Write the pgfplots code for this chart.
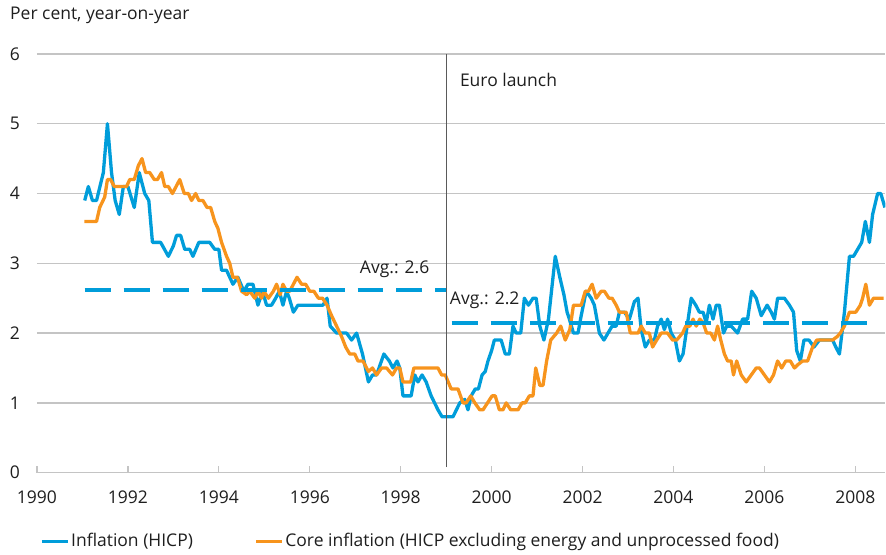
\documentclass[border=0pt]{standalone}
\usepackage{pgfplots}
\pgfplotsset{compat=1.18}
\usepackage{fontspec}
\setmainfont{Open Sans}
\definecolor{ecbblue}{RGB}{0,157,218}
\definecolor{ecborange}{RGB}{247,148,29}
\definecolor{gridgray}{RGB}{196,196,196}
\definecolor{vgray}{RGB}{90,90,90}
\definecolor{txt}{RGB}{30,30,30}
\begin{document}
\fontsize{17.5pt}{20pt}\selectfont
\begin{tikzpicture}
\begin{axis}[
  name=main,
  scale only axis, width=849pt, height=419pt,
  xmin=1990, xmax=2008.66, ymin=0, ymax=6,
  clip mode=individual,
  axis x line*=bottom, axis y line*=left,
  x axis line style={draw=gridgray, line width=1.3pt, -},
  y axis line style={draw=none},
  xtick={1990,1992,...,2008}, ytick={0,1,...,6},
  /pgf/number format/assume math mode=true,
  /pgf/number format/1000 sep={},
  tick align=inside, major tick length=7pt,
  xtick style={draw=gridgray, line width=1.3pt},
  ytick style={draw=none},
  ymajorgrids, grid style={draw=gridgray, line width=1.3pt},
  tick label style={font=\fontsize{17.5pt}{20pt}\selectfont, text=txt},
  xticklabel style={anchor=north, yshift=-12pt},
  yticklabel style={anchor=east, xshift=-11pt},
  legend columns=2,
  legend cell align=left,
  legend style={draw=none, fill=none, at={(0,0)}, anchor=north west,
    xshift=3pt, yshift=-59pt, inner sep=0pt,
    font=\fontsize{17.5pt}{20pt}\selectfont, text=txt,
    nodes={inner sep=1.5pt},
    /tikz/every even column/.append style={column sep=60pt}},
  legend image code/.code={\draw[#1, line width=3.5pt] (0pt,0pt) -- (26pt,0pt);},
]
\addplot[ecbblue, line width=3.3pt, line join=round] coordinates {
(1991.05,3.9) (1991.13,4.1) (1991.22,3.9) (1991.31,3.9) (1991.46,4.3) (1991.55,5.0)
(1991.64,4.3) (1991.72,3.9) (1991.81,3.7) (1991.90,4.1) (1992.00,4.1) (1992.14,3.8)
(1992.25,4.3) (1992.37,4.0) (1992.46,3.9) (1992.54,3.3) (1992.72,3.3) (1992.89,3.1)
(1993.00,3.25) (1993.07,3.4) (1993.16,3.4) (1993.25,3.2) (1993.36,3.2) (1993.43,3.1)
(1993.56,3.3) (1993.80,3.3) (1993.91,3.2) (1994.00,3.2) (1994.06,2.9) (1994.17,2.9)
(1994.31,2.7) (1994.42,2.8) (1994.55,2.6) (1994.64,2.7) (1994.75,2.7) (1994.86,2.4)
(1994.96,2.6) (1995.05,2.4) (1995.16,2.4) (1995.25,2.5) (1995.33,2.6) (1995.41,2.4)
(1995.49,2.6) (1995.55,2.5) (1995.64,2.3) (1995.74,2.4) (1996.29,2.4) (1996.38,2.5)
(1996.45,2.1) (1996.59,2.0) (1996.81,2.0) (1996.92,1.9) (1997.03,2.0) (1997.16,1.7)
(1997.29,1.3) (1997.38,1.4) (1997.47,1.4) (1997.63,1.7) (1997.75,1.6) (1997.83,1.5)
(1997.92,1.6) (1997.98,1.5) (1998.05,1.1) (1998.23,1.1) (1998.31,1.4) (1998.38,1.3)
(1998.47,1.4) (1998.56,1.3) (1998.67,1.1) (1998.82,0.9) (1998.91,0.8) (1999.15,0.8)
(1999.30,1.0) (1999.41,1.05) (1999.48,0.9) (1999.55,1.1) (1999.64,1.2) (1999.71,1.2)
(1999.79,1.4) (1999.86,1.45) (1999.92,1.6) (2000.00,1.75) (2000.06,1.9) (2000.21,1.9)
(2000.30,1.7) (2000.39,1.7) (2000.47,2.1) (2000.54,2.0) (2000.64,2.0) (2000.72,2.5)
(2000.81,2.4) (2000.91,2.5) (2000.98,2.5) (2001.06,2.1) (2001.15,1.9) (2001.25,2.2)
(2001.40,3.1) (2001.50,2.8) (2001.59,2.55) (2001.66,2.3) (2001.71,2.2) (2001.80,2.0)
(2001.90,2.0) (2001.97,2.25) (2002.08,2.6) (2002.19,2.5) (2002.26,2.4) (2002.37,2.0)
(2002.47,1.9) (2002.56,2.0) (2002.65,2.1) (2002.74,2.1) (2002.81,2.3) (2002.92,2.3)
(2003.03,2.2) (2003.14,2.45) (2003.22,2.5) (2003.29,2.05) (2003.38,1.8) (2003.47,1.9)
(2003.58,1.9) (2003.65,2.1) (2003.73,2.2) (2003.80,2.05) (2003.87,2.2) (2003.95,2.0)
(2004.04,1.9) (2004.13,1.6) (2004.21,1.7) (2004.30,2.1) (2004.39,2.5) (2004.49,2.4)
(2004.57,2.3) (2004.65,2.3) (2004.72,2.15) (2004.79,2.4) (2004.87,2.2) (2004.94,2.4)
(2005.01,2.4) (2005.10,2.0) (2005.17,2.1) (2005.27,2.1) (2005.34,2.05) (2005.41,2.0)
(2005.52,2.2) (2005.63,2.2) (2005.72,2.6) (2005.82,2.5) (2005.93,2.25) (2006.06,2.4)
(2006.15,2.3) (2006.22,2.2) (2006.29,2.5) (2006.44,2.5) (2006.55,2.4) (2006.64,2.3)
(2006.71,1.75) (2006.79,1.6) (2006.87,1.9) (2006.98,1.9) (2007.09,1.8) (2007.21,1.9)
(2007.31,1.9) (2007.50,1.9) (2007.57,1.8) (2007.65,1.7) (2007.76,2.3) (2007.87,3.1)
(2007.96,3.1) (2008.05,3.2) (2008.14,3.3) (2008.22,3.6) (2008.31,3.3) (2008.38,3.7)
(2008.49,4.0) (2008.56,4.0) (2008.65,3.8)
};
\addlegendentry{Inflation (HICP)}
\addplot[ecborange, line width=3.3pt, line join=round] coordinates {
(1991.04,3.6) (1991.31,3.6) (1991.38,3.8) (1991.49,3.95) (1991.55,4.2) (1991.62,4.2)
(1991.70,4.1) (1991.97,4.1) (1992.04,4.2) (1992.14,4.2) (1992.23,4.4) (1992.31,4.5)
(1992.39,4.3) (1992.48,4.3) (1992.58,4.2) (1992.65,4.2) (1992.74,4.3) (1992.81,4.1)
(1992.89,4.1) (1992.98,4.0) (1993.14,4.2) (1993.24,4.0) (1993.33,4.0) (1993.40,3.9)
(1993.49,4.0) (1993.56,3.9) (1993.65,3.9) (1993.74,3.8) (1993.82,3.8) (1993.91,3.6)
(1993.98,3.5) (1994.06,3.3) (1994.17,3.1) (1994.24,3.0) (1994.31,2.8) (1994.41,2.8)
(1994.50,2.6) (1994.61,2.55) (1994.68,2.6) (1994.79,2.5) (1994.86,2.6) (1994.94,2.5)
(1994.99,2.6) (1995.09,2.5) (1995.20,2.6) (1995.27,2.7) (1995.35,2.55) (1995.41,2.7)
(1995.49,2.6) (1995.56,2.6) (1995.64,2.7) (1995.72,2.8) (1995.82,2.7) (1995.91,2.7)
(1996.00,2.6) (1996.09,2.6) (1996.19,2.5) (1996.28,2.5) (1996.38,2.4) (1996.48,2.25)
(1996.59,2.1) (1996.70,1.95) (1996.79,1.8) (1996.88,1.7) (1996.99,1.7) (1997.06,1.6)
(1997.17,1.6) (1997.29,1.45) (1997.38,1.5) (1997.47,1.4) (1997.58,1.5) (1997.69,1.5)
(1997.82,1.4) (1997.91,1.5) (1997.98,1.5) (1998.05,1.3) (1998.22,1.3) (1998.29,1.5)
(1998.82,1.5) (1998.90,1.4) (1998.98,1.4) (1999.11,1.2) (1999.26,1.2) (1999.37,1.0)
(1999.44,1.0) (1999.54,1.1) (1999.63,1.0) (1999.74,0.9) (1999.81,0.9) (1999.91,1.0)
(2000.01,1.1) (2000.08,1.1) (2000.17,0.9) (2000.25,0.9) (2000.32,1.0) (2000.42,0.9)
(2000.58,0.9) (2000.67,1.0) (2000.74,1.0) (2000.83,1.1) (2000.91,1.1) (2000.97,1.5)
(2001.06,1.25) (2001.13,1.25) (2001.21,1.6) (2001.30,1.9) (2001.43,2.0) (2001.52,2.1)
(2001.62,1.9) (2001.72,2.05) (2001.80,2.4) (2001.97,2.4) (2002.06,2.6) (2002.13,2.6)
(2002.21,2.7) (2002.30,2.5) (2002.41,2.6) (2002.48,2.6) (2002.58,2.5) (2002.65,2.5)
(2002.74,2.4) (2002.81,2.3) (2002.96,2.3) (2003.05,2.0) (2003.22,2.0) (2003.29,2.1)
(2003.38,2.0) (2003.47,2.0) (2003.54,1.8) (2003.63,1.9) (2003.73,2.0) (2003.87,2.0)
(2003.98,1.9) (2004.07,1.9) (2004.20,2.0) (2004.27,2.1) (2004.36,2.1) (2004.43,2.2)
(2004.50,2.1) (2004.58,2.2) (2004.65,2.15) (2004.73,2.0) (2004.82,2.0) (2004.90,1.9)
(2004.97,2.1) (2005.04,1.9) (2005.12,1.7) (2005.19,1.6) (2005.27,1.6) (2005.32,1.4)
(2005.39,1.6) (2005.49,1.4) (2005.60,1.3) (2005.71,1.4) (2005.82,1.5) (2005.89,1.5)
(2006.00,1.4) (2006.11,1.3) (2006.20,1.4) (2006.29,1.6) (2006.38,1.5) (2006.47,1.6)
(2006.57,1.6) (2006.66,1.5) (2006.74,1.55) (2006.84,1.6) (2006.95,1.6) (2007.06,1.8)
(2007.15,1.9) (2007.50,1.9) (2007.60,1.95) (2007.67,2.0) (2007.76,2.1) (2007.87,2.3)
(2008.01,2.3) (2008.11,2.4) (2008.16,2.5) (2008.23,2.7) (2008.31,2.4) (2008.40,2.5)
(2008.62,2.5)
};
\addlegendentry{Core inflation (HICP excluding energy and unprocessed food)}
% averages
\addplot[forget plot, ecbblue, line width=4pt, dash pattern=on 26pt off 13pt] coordinates {(1991.05,2.62) (1999.0,2.62)};
\addplot[forget plot, ecbblue, line width=4pt, dash pattern=on 26pt off 13pt] coordinates {(1999.12,2.15) (2008.31,2.15)};
% euro launch
\addplot[forget plot, vgray, line width=1.2pt] coordinates {(1999.0,0.08) (1999.0,6)};
\node[anchor=base west, inner sep=0pt, text=txt] at (axis cs:1997.10,2.86) {Avg.: 2.6};
\node[anchor=base west, inner sep=0pt, text=txt] at (axis cs:1999.08,2.41) {Avg.: 2.2};
\node[anchor=base west, inner sep=0pt, text=txt] at (axis cs:1999.30,5.54) {Euro launch};
\end{axis}
\node[anchor=base west, inner sep=0pt, text=txt] at ([xshift=-27pt,yshift=34pt]main.north west) {Per cent, year-on-year};
\path[use as bounding box] ([xshift=-37pt,yshift=-82pt]main.south west) rectangle ([yshift=54pt]main.north east);
\end{tikzpicture}
\end{document}
